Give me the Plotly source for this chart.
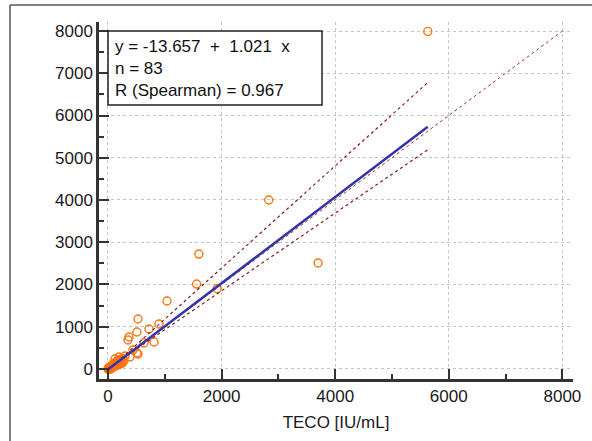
import plotly.graph_objects as go

# ---- data ----
teco = [5630, 2830, 3700, 1600, 1560, 1920,
        352, 370, 440, 634, 810, 510, 387, 300, 528, 123, 194, 510, 722, 898, 528, 1039,
        0, 5, 8, 10, 12, 15, 18, 20, 22, 25,
        28, 30, 32, 35, 38, 40, 42, 45, 48, 50,
        52, 55, 58, 60, 62, 65, 68, 70, 72, 75,
        78, 80, 82, 85, 88, 90, 95, 100, 105, 110,
        115, 120, 125, 130, 135, 140, 150, 155, 160, 170,
        175, 180, 190, 200, 210, 220, 230, 240, 250, 265,
        280]
other = [7990, 4000, 2510, 2720, 2010, 1900,
         686, 757, 450, 615, 639, 379, 284, 308, 355, 237, 284, 876, 947, 1065, 1183, 1609,
         0, 10, -5, 20, 5, 25, -8, 12, 35, 18,
         0, 40, 22, 8, 45, 28, -3, 50, 32, 15,
         60, 40, 22, 70, 48, 30, 80, 55, 38, 90,
         62, 45, 100, 70, 50, 110, 78, 58, 125, 90,
         65, 140, 100, 75, 155, 110, 85, 170, 125, 95,
         190, 140, 110, 210, 150, 120, 230, 170, 135, 250,
         190]

intercept = -13.657
slope = 1.021
n_obs = 83
spearman_r = 0.967

fit_x = [0, 5630]
ci_upper_y = [-30, 6780]
ci_lower_y = [10, 5190]
identity_xy = [0, 8000]

x_ticks = [0, 2000, 4000, 6000, 8000]
y_ticks = [0, 1000, 2000, 3000, 4000, 5000, 6000, 7000, 8000]
x_title = "TECO [IU/mL]"

fit_y = [intercept + slope * v for v in fit_x]

FONT = "Liberation Sans, Arial, sans-serif"
FS = 17

fig = go.Figure()
fig.add_trace(go.Scatter(x=teco, y=other, mode="markers",
                         marker=dict(symbol="circle-open", size=8, color="#FF7410",
                                     line=dict(width=1.4, color="#FF7410")),
                         showlegend=False))
fig.add_trace(go.Scatter(x=identity_xy, y=identity_xy, mode="lines",
                         line=dict(color="#A0303A", width=1, dash="dot"), showlegend=False))
fig.add_trace(go.Scatter(x=fit_x, y=ci_upper_y, mode="lines",
                         line=dict(color="#8B1A1A", width=1.2, dash="dot"), showlegend=False))
fig.add_trace(go.Scatter(x=fit_x, y=ci_lower_y, mode="lines",
                         line=dict(color="#8B1A1A", width=1.2, dash="dot"), showlegend=False))
fig.add_trace(go.Scatter(x=fit_x, y=fit_y, mode="lines",
                         line=dict(color="#3535A5", width=2.5), showlegend=False))

W, H = 592, 441
L, R, T, B = 99, 19, 22, 62
pw, ph = W - L - R, H - T - B

def px(xp):
    return (xp - L) / pw

def py(yp):
    return (H - B - yp) / ph

axis_common = dict(
    showline=True, linecolor="#333333", linewidth=2.5,
    ticks="inside", ticklen=10, tickwidth=2, tickcolor="#333333",
    showgrid=True, gridcolor="#C4C4C4", gridwidth=1, griddash="dot",
    zeroline=False, mirror=False, automargin=False,
    tickfont=dict(family=FONT, size=FS, color="#1A1A1A"),
)

fig.update_xaxes(range=[-158, 8187], tickvals=x_ticks,
                 minor=dict(dtick=1000, tick0=0, ticks="inside", ticklen=5, tickwidth=1.5,
                            tickcolor="#333333", showgrid=False),
                 title=dict(text=x_title, font=dict(family=FONT, size=FS, color="#1A1A1A"),
                            standoff=11),
                 **axis_common)
fig.update_yaxes(range=[-237, 8213], tickvals=y_ticks,
                 minor=dict(dtick=500, tick0=0, ticks="inside", ticklen=5, tickwidth=1.5,
                            tickcolor="#333333", showgrid=False),
                 **axis_common)

# statistics box
fig.add_shape(type="rect", xref="paper", yref="paper",
              x0=px(108), x1=px(322), y0=py(105), y1=py(31),
              line=dict(color="#222222", width=1.5), fillcolor="white", layer="above")
nb = "\u00a0"
txt = (f"y = {intercept:.3f}{nb}{nb}+{nb}{nb}{slope:.3f}{nb}{nb}x<br>"
       f"n = {n_obs}<br>R (Spearman) = {spearman_r:.3f}")
fig.add_annotation(xref="paper", yref="paper", x=px(113), y=py(68),
                   xanchor="left", yanchor="middle", align="left", showarrow=False,
                   text=txt, font=dict(family=FONT, size=FS, color="#111111"))

# outer frame (top and left edges visible in the picture)
fig.add_shape(type="line", xref="paper", yref="paper",
              x0=px(10), x1=px(592), y0=py(5), y1=py(5),
              line=dict(color="#555555", width=1.5), layer="above")
fig.add_shape(type="line", xref="paper", yref="paper",
              x0=px(10), x1=px(10), y0=py(5), y1=py(441),
              line=dict(color="#555555", width=1.5), layer="above")

fig.update_layout(width=W, height=H, margin=dict(l=L, r=R, t=T, b=B),
                  paper_bgcolor="white", plot_bgcolor="white",
                  font=dict(family=FONT, size=FS, color="#1A1A1A"))

fig.write_html("out.html", config={"displayModeBar": False},
               post_script=("document.body.style.margin='0';document.body.style.padding='0';"
                            "document.body.style.overflow='hidden';"
                            "document.documentElement.style.overflow='hidden';"))
